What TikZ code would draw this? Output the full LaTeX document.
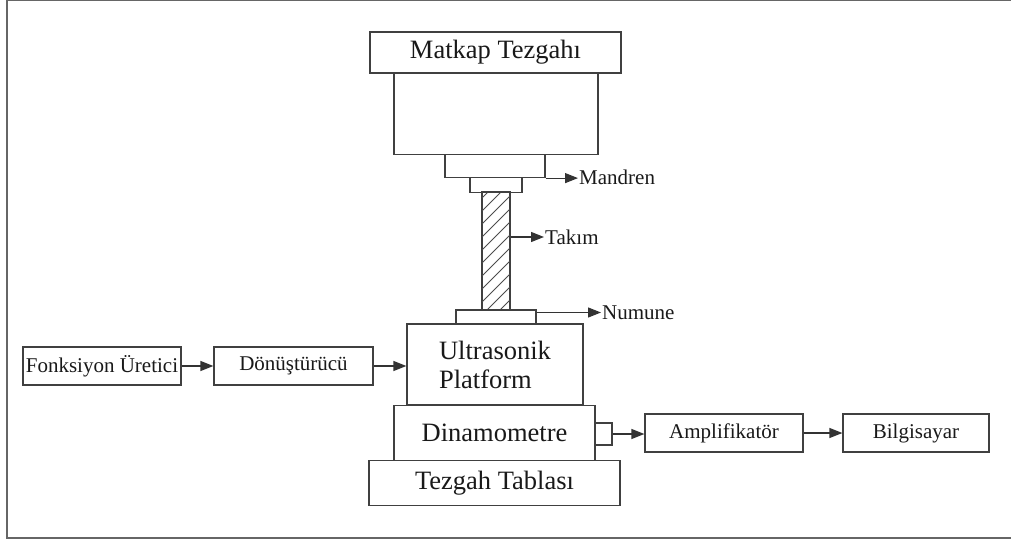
\documentclass[tikz,border=0pt]{standalone}
\usepackage{fontspec}
\setmainfont{Liberation Serif}
\usetikzlibrary{arrows.meta}
\tikzset{
  box/.style={draw=black!75, line width=1.2pt, fill=white, inner sep=0pt, text=black!90},
  big/.style={font=\fontsize{26.5}{28}\selectfont},
  small/.style={font=\fontsize{21}{24}\selectfont},
  lbl/.style={inner sep=1pt, text=black!90, font=\fontsize{21}{24}\selectfont},
  arr/.style={draw=black!80, line width=1.2pt, -{Triangle[length=13pt,width=10pt]}},
  frame/.style={draw=black!60, line width=1.4pt},
  hatch/.style={draw=black!70, line width=1pt}
}
\begin{document}
\begin{tikzpicture}[x=1pt,y=-1pt]
\useasboundingbox (0,0) rectangle (1011,541);
% outer frame
\draw[frame] (1011,0.7) -- (7,0.7) -- (7,538) -- (1011,538);
% machine column
\node[box,big,minimum width=251pt,minimum height=41pt] (matkap) at (495.5,52.5) {Matkap Tezgahı};
\node[box,minimum width=204pt,minimum height=81pt] (body) at (496,114) {};
\node[box,minimum width=100pt,minimum height=23pt] (chuck) at (495,166) {};
\node[box,minimum width=52pt,minimum height=15pt] (collet) at (496,185) {};
\node[box,minimum width=28pt,minimum height=118pt] (tool) at (496,251.5) {};
\begin{scope}
  \clip (tool.south west) rectangle (tool.north east);
  \foreach \k in {198,211,...,360} {
    \draw[hatch] (482,\k) -- ++(40,-40);
  }
\end{scope}
\draw[box,fill=none] (tool.south west) rectangle (tool.north east);
\node[box,minimum width=80pt,minimum height=15pt] (numune) at (496,317.5) {};
\node[box,big,minimum width=176pt,minimum height=81pt,align=left] (ultra) at (495,364.5) {Ultrasonik\\[1pt]Platform};
\node[box,big,minimum width=201pt,minimum height=55pt] (dinamo) at (494.5,433) {Dinamometre};
\node[box,minimum width=17pt,minimum height=22pt] (sq) at (603.5,434) {};
\node[box,big,minimum width=251pt,minimum height=45pt] (tezgah) at (494.5,483) {Tezgah Tablası};
% side chain
\node[box,small,minimum width=158pt,minimum height=38pt] (fonk) at (102,366) {Fonksiyon Üretici};
\node[box,small,minimum width=159pt,minimum height=38pt] (donus) at (293.5,366) {Dönüştürücü};
\node[box,small,minimum width=158pt,minimum height=38pt] (amp) at (724,433) {Amplifikatör};
\node[box,small,minimum width=146pt,minimum height=38pt] (bilg) at (916,433) {Bilgisayar};
% labels
\node[lbl,anchor=west] (lmandren) at (578,177.5) {Mandren};
\node[lbl,anchor=west] (ltakim) at (544,237) {Takım};
\node[lbl,anchor=west] (lnumune) at (601,312.5) {Numune};
% connectors
\draw[arr] (chuck.south east) -- (chuck.south east -| lmandren.west);
\draw[arr] (tool.east |- ltakim) -- (ltakim.west);
\draw[arr] (numune.east |- lnumune) -- (lnumune.west);
\draw[arr] (fonk) -- (donus);
\draw[arr] (donus.east) -- (donus.east -| ultra.west);
\draw[arr] (sq.east) -- (sq.east -| amp.west);
\draw[arr] (amp) -- (bilg);
\end{tikzpicture}
\end{document}
